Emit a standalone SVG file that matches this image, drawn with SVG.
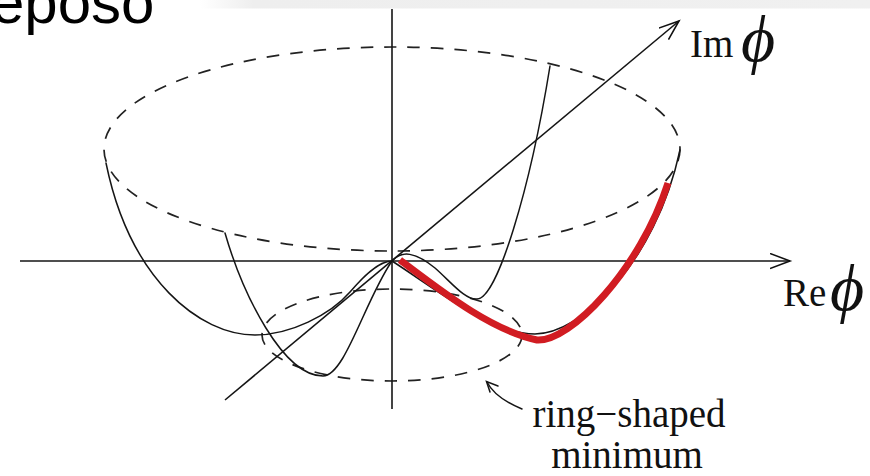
<svg xmlns="http://www.w3.org/2000/svg" width="870" height="476" viewBox="0 0 870 476">
  <defs>
    <linearGradient id="band" x1="200" y1="0" x2="870" y2="0" gradientUnits="userSpaceOnUse">
      <stop offset="0" stop-color="#ffffff"/>
      <stop offset="0.08" stop-color="#eeeeee"/>
      <stop offset="1" stop-color="#f0f0f0"/>
    </linearGradient>
    <marker id="axisHead" markerUnits="userSpaceOnUse" markerWidth="24" markerHeight="18" refX="20" refY="8" orient="auto" viewBox="0 0 24 18">
      <path d="M0,0.5 L20,8 L0,15.5" fill="none" stroke="#111" stroke-width="1.6"/>
    </marker>
  </defs>
  <style>
    .ax { fill: none; stroke: #151515; stroke-width: 1.6; }
    .curve { fill: none; stroke: #151515; stroke-width: 1.5; stroke-linecap: round; }
    .dash { fill: none; stroke: #222; stroke-width: 1.7; stroke-dasharray: 12.5 11; }
    .red { fill: none; stroke: #d11c22; stroke-width: 7; stroke-linecap: butt; stroke-linejoin: round; }
    .lbl { font-family: "Liberation Serif", "Times New Roman", serif; font-size: 39px; fill: #111; }
    .phi { font-family: "Liberation Serif", "DejaVu Serif", serif; font-style: italic; font-size: 66px; fill: #111; }
  </style>

  <g id="header">
    <rect x="200" y="0" width="670" height="8.5" fill="url(#band)"/>
    <text x="-9" y="23" font-family="Liberation Sans, Arial, sans-serif" font-size="60" fill="#000">eposo</text>
  </g>

  <g id="rim">
    <ellipse class="dash" cx="392" cy="149" rx="288" ry="102"/>
  </g>
  <g id="ring">
    <ellipse class="dash" cx="392" cy="335" rx="130" ry="46"/>
  </g>

  <g id="axes">
    <line class="ax" x1="20" y1="261" x2="790" y2="261" marker-end="url(#axisHead)"/>
    <line class="ax" x1="392" y1="9" x2="392" y2="409" stroke="#2a2a2a" stroke-width="2"/>
    <line class="ax" x1="225" y1="400" x2="679" y2="21" marker-end="url(#axisHead)"/>
  </g>

  <g id="potential-slices">
    <path class="curve" d="M392,261 C378,261 362,278 350,292 C330,315 290,335 255,335 C200,335 130,280 106,163"/>
    <path class="curve" d="M225,233 C243,295 283,376 323,376 C345,376 365,300 392,261"/>
    <path class="curve" d="M392,261 C402,250 415,252 435,268 C452,283 465,300 477,299 C497,299 530,190 550,66"/>
    <path class="curve" d="M392,261 C440,292 492,334 535,334 C580,334 655,265 680,150"/>
  </g>

  <g id="highlight">
    <path class="red" d="M400,260 C440,290 490,330 537,340 C570,342 640,270 668,183"/>
  </g>

  <g id="connectors">
    <path class="curve" d="M522,409 C505,402 493,394 487,382"/>
    <path class="curve" d="M490,392 L486.5,381.5 L498,386"/>
  </g>

  <g id="label-im">
    <text class="lbl" x="690" y="57">Im</text>
    <text class="phi" x="741" y="61">ϕ</text>
  </g>
  <g id="label-re">
    <text class="lbl" x="783" y="306">Re</text>
    <text class="phi" x="830" y="310">ϕ</text>
  </g>
  <g id="label-ring">
    <text class="lbl" x="629" y="427" text-anchor="middle">ring−shaped</text>
    <text class="lbl" x="627" y="467.5" text-anchor="middle">minimum</text>
  </g>
</svg>
